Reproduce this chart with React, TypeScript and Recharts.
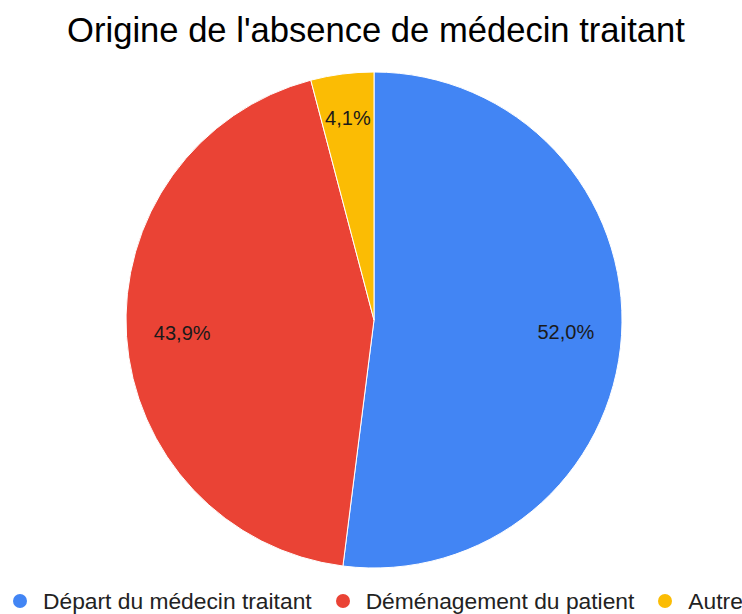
import React from 'react';
import { PieChart, Pie, Cell, Legend } from 'recharts';

const categories = ['Départ du médecin traitant', 'Déménagement du patient', 'Autre'];
const values = [52.0, 43.9, 4.1];
const labels = ['52,0%', '43,9%', '4,1%'];
const colors = ['#4285F4', '#EA4335', '#FBBC04'];

const data = categories.map((name, i) => ({ name, value: values[i], label: labels[i] }));

const FONT = "Arial, 'Liberation Sans', Helvetica, sans-serif";
const RAD = Math.PI / 180;

const renderLabel = (props: any) => {
  const { cx, cy, midAngle, outerRadius, percent, index } = props;
  const f = percent < 0.1 ? 0.82 : 0.775;
  const r = outerRadius * f;
  const x = cx + r * Math.cos(-midAngle * RAD);
  const y = cy + r * Math.sin(-midAngle * RAD);
  return (
    <text
      x={x}
      y={y}
      textAnchor="middle"
      dominantBaseline="central"
      fill="#1a1a1a"
      fontSize={20}
      fontFamily={FONT}
    >
      {data[index].label}
    </text>
  );
};

const renderLegend = () => (
  <div style={{ display: 'flex', alignItems: 'center', fontFamily: FONT, fontSize: 22.8, color: '#222222', whiteSpace: 'nowrap', lineHeight: '26px' }}>
    {data.map((d, i) => (
      <div key={d.name} style={{ display: 'flex', alignItems: 'center', marginRight: 24 }}>
        <span style={{ display: 'inline-block', width: 14, height: 14, borderRadius: 7, background: colors[i], marginRight: 16 }} />
        <span>{d.name}</span>
      </div>
    ))}
  </div>
);

export default function App() {
  return (
    <div style={{ position: 'absolute', top: 0, left: 0, width: 742, height: 614, overflow: 'hidden', background: '#ffffff' }}>
      <div
        style={{
          position: 'absolute',
          top: 10,
          left: 0,
          width: 752,
          textAlign: 'center',
          fontFamily: FONT,
          fontSize: 34.6,
          color: '#000000',
          lineHeight: '40px',
        }}
      >
        Origine de l'absence de médecin traitant
      </div>
      <PieChart width={742} height={614} margin={{ top: 0, right: 0, bottom: 0, left: 0 }} style={{ position: 'absolute', top: 0, left: 0 }}>
        <Pie
          data={data}
          dataKey="value"
          nameKey="name"
          cx={374}
          cy={320}
          outerRadius={248}
          startAngle={90}
          endAngle={-270}
          stroke="#ffffff"
          strokeWidth={1}
          label={renderLabel}
          labelLine={false}
          isAnimationActive={false}
        >
          {data.map((d, i) => (
            <Cell key={d.name} fill={colors[i]} />
          ))}
        </Pie>
        <Legend
          content={renderLegend}
          wrapperStyle={{ position: 'absolute', left: 13, top: 588, width: 729, height: 26, overflow: 'hidden' }}
        />
      </PieChart>
    </div>
  );
}
